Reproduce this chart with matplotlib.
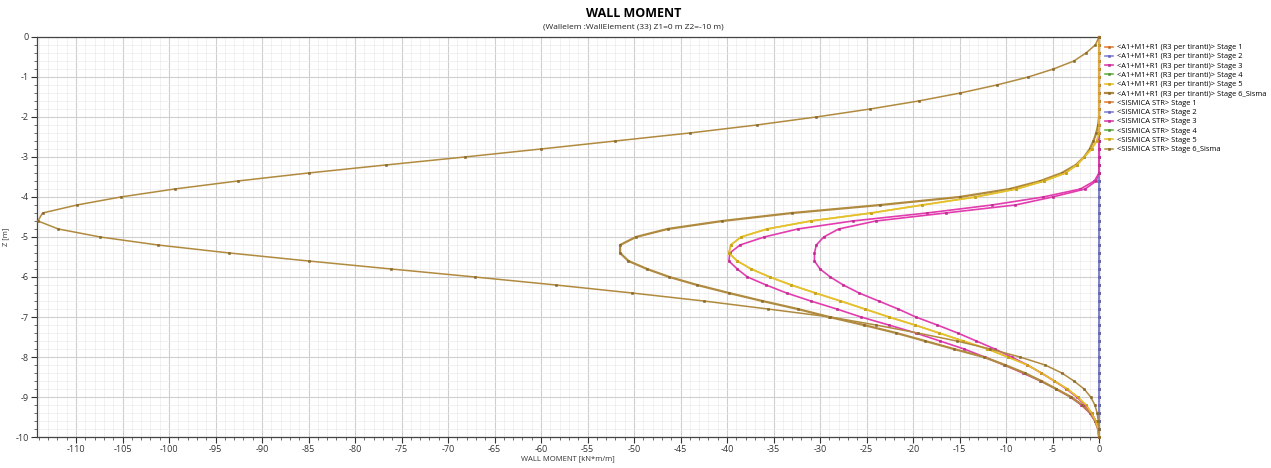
"""
WALL MOMENT - diagramma momento parete per fase
"""
import matplotlib
matplotlib.use("Agg")
import matplotlib.pyplot as plt
import numpy as np
from matplotlib.ticker import MultipleLocator

plt.rcParams['font.family'] = ['Open Sans', 'DejaVu Sans']
plt.rcParams['axes.unicode_minus'] = False

# profondita' [m], passo 0.2
z = np.round(np.linspace(0, -10, 51), 2)

zero = [0.0] * 51

# Stage 3
a1_stage3 = [0] * 18 + [-0.5, -2.0, -6.0, -11.5, -18.5, -26.5, -32.4, -36.0, -38.6, -39.7, -39.8,
                        -38.9, -37.8, -35.8, -33.6, -31.0, -28.2, -25.6, -22.6, -19.7, -17.1, -14.5,
                        -12.3, -10.2, -8.2, -6.3, -4.6, -3.1, -1.9, -1.0, -0.45, -0.12, 0.0]
sis_stage3 = [0] * 18 + [-0.3, -1.5, -5.0, -9.0, -16.5, -24.0, -28.0, -29.6, -30.4, -30.6, -30.6,
                         -30.0, -28.9, -27.5, -25.8, -23.7, -21.6, -19.7, -17.4, -15.2, -13.2, -11.2,
                         -9.4, -7.7, -6.2, -4.8, -3.5, -2.4, -1.5, -0.8, -0.35, -0.1, 0.0]

# Stage 5 (le due combinazioni si sovrappongono)
stage5 = [0] * 13 + [-0.25, -0.8, -1.6, -2.4, -3.6, -5.9, -8.9, -13.3, -19.0, -24.5, -31.0, -35.7,
                     -38.5, -39.6, -39.8, -38.9, -37.4, -35.4, -33.1, -30.5, -27.8, -25.2, -22.6,
                     -19.8, -17.2, -14.6, -12.0, -9.8, -7.7, -6.2, -4.8, -3.4, -2.3, -1.4, -0.8,
                     -0.35, -0.1, 0.0]

# Stage 6_Sisma
a1_stage6 = [0] * 11 + [-0.1, -0.3, -0.6, -1.0, -1.6, -2.5, -4.0, -6.3, -9.6, -15.0, -23.5, -33.0,
                        -40.5, -46.4, -49.8, -51.5, -51.5, -50.6, -48.6, -46.2, -43.2, -39.8, -36.2,
                        -32.4, -29.0, -25.3, -21.8, -18.7, -15.6, -12.4, -10.1, -8.0, -6.2, -4.6,
                        -3.0, -1.8, -0.9, -0.4, -0.1, 0.0]
sis_stage6 = [0.0, -0.4, -1.4, -2.7, -4.9, -7.6, -11.0, -14.9, -19.4, -24.6, -30.4, -36.8, -44.0,
              -52.0, -60.0, -68.2, -76.7, -85.0, -92.6, -99.4, -105.2, -109.9, -113.6, -114.1,
              -111.9, -107.4, -101.2, -93.5, -85.0, -76.1, -67.1, -58.4, -50.2, -42.5, -35.6,
              -28.9, -24.0, -19.5, -15.3, -11.7, -8.5, -5.8, -4.0, -2.7, -1.6, -0.9, -0.45, -0.2,
              -0.08, -0.02, 0.0]

labels = ["<A1+M1+R1 (R3 per tiranti)> Stage 1", "<A1+M1+R1 (R3 per tiranti)> Stage 2",
          "<A1+M1+R1 (R3 per tiranti)> Stage 3", "<A1+M1+R1 (R3 per tiranti)> Stage 4",
          "<A1+M1+R1 (R3 per tiranti)> Stage 5", "<A1+M1+R1 (R3 per tiranti)> Stage 6_Sisma",
          "<SISMICA STR> Stage 1", "<SISMICA STR> Stage 2", "<SISMICA STR> Stage 3",
          "<SISMICA STR> Stage 4", "<SISMICA STR> Stage 5", "<SISMICA STR> Stage 6_Sisma"]
series = [zero, zero, a1_stage3, zero, stage5, a1_stage6,
          zero, zero, sis_stage3, zero, stage5, sis_stage6]
colors = ['#E8823C', '#8484D6', '#E23CAE', '#6CB444', '#E6C12E', '#B08A3E'] * 2
edge = ['#C06828', '#6464B8', '#C02890', '#509430', '#C8A018', '#8A6828'] * 2
widths = [1.2, 1.2, 1.2, 1.2, 1.2, 1.6, 1.2, 1.2, 1.2, 1.2, 1.2, 1.1]
# ordine di disegno: sulla verticale a zero si vede soprattutto lo Stage 2
zorders = [2, 2.6, 3, 2, 3, 3, 2, 2.7, 3, 2, 3, 3.2]

fig = plt.figure(figsize=(12.71, 4.68), dpi=100)
ax = fig.add_axes([0.0291, 0.0662, 0.8356, 0.8548])

for vals, lab, c, lw, ec, zo in zip(series, labels, colors, widths, edge, zorders):
    ax.plot(vals, z, color=c, lw=lw, marker='s', ms=1.9, mec=ec, mfc=ec, mew=0.4,
            label=lab, zorder=zo, clip_on=False)

ax.set_xlim(-114.2, 0)
ax.set_ylim(-10, 0)
ax.xaxis.set_major_locator(MultipleLocator(5))
ax.xaxis.set_minor_locator(MultipleLocator(1))
ax.yaxis.set_major_locator(MultipleLocator(1))
ax.yaxis.set_minor_locator(MultipleLocator(0.2))
ax.grid(which='major', color='#cfcfcf', lw=0.8)
ax.grid(which='minor', color='#ececec', lw=0.5)
ax.set_axisbelow(True)
ax.tick_params(which='major', labelsize=6.5, length=4, width=0.8, colors='#333333', pad=2)
ax.tick_params(which='minor', length=2, width=0.6, colors='#555555')
for s in ax.spines.values():
    s.set_color('#444444')
    s.set_linewidth(0.9)
ax.spines['right'].set_zorder(1)

ax.set_xlabel("WALL MOMENT [kN*m/m]", fontsize=5.5, color='#333333', labelpad=1)
ax.set_ylabel("Z [m]", fontsize=5.5, color='#333333', labelpad=4)

fig.text(0.4985, 0.972, "WALL MOMENT", ha='center', va='center', fontsize=9, fontweight='bold')
fig.text(0.4985, 0.942, "(Wallelem :WallElement (33) Z1=0 m Z2=-10 m)", ha='center', va='center',
         fontsize=6, color='#222222')

ax.legend(loc='upper left', bbox_to_anchor=(1.003, 0.99), frameon=False, fontsize=5.4,
          handlelength=1.1, handletextpad=0.5, labelspacing=0.27, borderaxespad=0)

fig.savefig("out.png", dpi=100)
